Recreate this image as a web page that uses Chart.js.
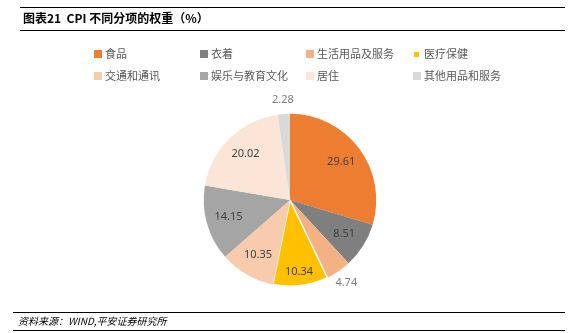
<!DOCTYPE html>
<html><head><meta charset="utf-8">
<script src="https://cdn.jsdelivr.net/npm/chart.js@4"></script>
<style>
html,body{margin:0;padding:0;background:#fff;}
#wrap{position:relative;width:575px;height:333px;overflow:hidden;font-family:"Noto Sans CJK SC","Noto Sans",sans-serif;}
canvas{position:absolute;left:0;top:0;}
.line{position:absolute;height:1px;background:#000;}
#title{position:absolute;left:23px;top:9px;font-size:12px;font-weight:bold;color:#000;line-height:18px;white-space:nowrap;}
#foot{position:absolute;left:18px;top:313px;font-size:10px;font-style:italic;color:#000;line-height:16px;white-space:nowrap;}
</style></head>
<body><div id="wrap">
<canvas id="c" width="575" height="333"></canvas>
<div class="line" style="left:20px;width:545px;top:7px;"></div>
<div id="title">图表21&nbsp;&nbsp;CPI 不同分项的权重（%）</div>
<div class="line" style="left:20px;width:545px;top:30px;"></div>
<div class="line" style="left:13px;width:552px;top:312px;"></div>
<div id="foot">资料来源：WIND,平安证券研究所</div>
<div class="line" style="left:13px;width:552px;top:330px;"></div>
</div>
<script>
const categories = ["食品","衣着","生活用品及服务","医疗保健","交通和通讯","娱乐与教育文化","居住","其他用品和服务"];
const weights = [29.61, 8.51, 4.74, 10.34, 10.35, 14.15, 20.02, 2.28];
const colors = ["#ED7D31","#7F7F7F","#F4B183","#FFC000","#F8CBAD","#A5A5A5","#FBE5D6","#D9D9D9"];

const legendPlugin = {
  id:'gridLegend',
  afterDraw(chart){
    const ctx = chart.ctx;
    const colX = [94, 200, 306, 413];
    const rowY = [54, 76];
    ctx.save();
    ctx.font = '11px "Noto Sans CJK SC", sans-serif';
    ctx.textBaseline = 'middle';
    ctx.textAlign = 'left';
    categories.forEach((c,i)=>{
      const x = colX[i%4], y = rowY[Math.floor(i/4)];
      ctx.fillStyle = colors[i];
      if (i===3) ctx.fillRect(x+1, y-2, 5, 5);
      else ctx.fillRect(x, y-4, 8, 8);
      ctx.fillStyle = '#595959';
      ctx.fillText(c, x+11, y);
    });
    ctx.restore();
  }
};

const labelPlugin = {
  id:'sliceLabels',
  afterDatasetsDraw(chart){
    const ctx = chart.ctx;
    const meta = chart.getDatasetMeta(0);
    ctx.save();
    ctx.font = '11px "Noto Sans", sans-serif';
    ctx.textAlign = 'center';
    ctx.textBaseline = 'middle';
    meta.data.forEach((arc,i)=>{
      const p = arc.getProps(['x','y','startAngle','endAngle','outerRadius'], true);
      const mid = (p.startAngle + p.endAngle)/2;
      const outside = weights[i] < 5;
      const f = outside ? 1.16 : (i===3 ? 0.84 : 0.74);
      const r = p.outerRadius * f;
      ctx.fillStyle = outside ? '#7F7F7F' : '#404040';
      ctx.fillText(weights[i].toFixed(2), p.x + Math.cos(mid)*r, p.y + Math.sin(mid)*r);
    });
    ctx.restore();
  }
};

new Chart(document.getElementById('c'), {
  type:'pie',
  data:{ labels: categories, datasets:[{ data: weights, backgroundColor: colors,
    borderColor:'#ffffff', borderWidth:[0,0,0,1.5,0,0,0,0] }]},
  options:{
    responsive:false, animation:false,
    layout:{ padding:{ left:203, right:198, top:113, bottom:46 } },
    plugins:{ legend:{display:false}, tooltip:{enabled:false} }
  },
  plugins:[legendPlugin, labelPlugin]
});
</script>
</body></html>
